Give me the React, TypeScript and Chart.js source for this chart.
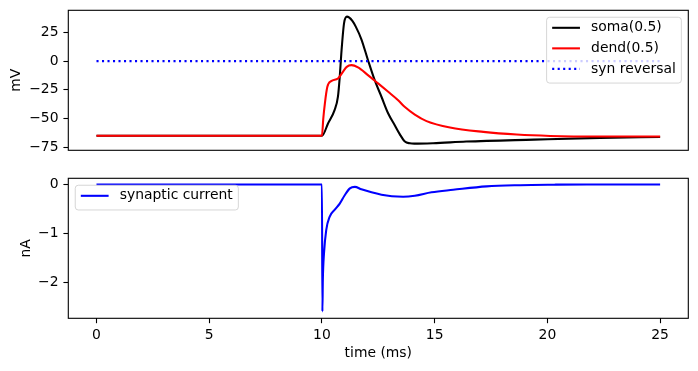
import React, { useEffect, useRef } from "react";
import { Chart, registerables } from "chart.js";

Chart.register(...registerables);

// ---------- data ----------
const xTicks = [0, 5, 10, 15, 20, 25];
const vTicks = [-75, -50, -25, 0, 25];
const iTicks = [-2, -1, 0];

const somaT = [0, 10, 10.27, 10.56, 10.71, 10.79, 10.86, 10.98, 11.11, 11.2, 11.35, 11.5, 11.75, 12.04, 12.34, 12.64, 12.94, 13.23, 13.45, 13.68, 13.9, 14.1, 14.93, 16.4, 19.4, 22.34, 25];
const somaV = [-65, -65, -54.3, -42.7, -31, -13.7, 6.7, 32.9, 38.7, 38, 35, 30, 19, 1, -16.6, -31, -45.6, -55.8, -63.5, -70, -71.5, -71.8, -71.4, -70, -68.3, -66.8, -66];

const dendT = [0, 10, 10.06, 10.13, 10.24, 10.41, 10.71, 10.93, 11.1, 11.31, 11.6, 12.04, 12.49, 12.94, 13.38, 13.68, 14.12, 14.64, 15.68, 17.16, 18.64, 20.12, 22.34, 25];
const dendV = [-65, -65, -50, -36.9, -22.4, -17.4, -15.1, -9.3, -5, -3.5, -5.5, -12.2, -19.4, -26.7, -34, -40, -46.5, -52.2, -57.8, -61.6, -63.9, -65.1, -65.6, -65.6];

const synRevT = [0, 25];
const synRevV = [0, 0];

const currT = [0, 10, 10.02, 10.04, 10.09, 10.19, 10.34, 10.56, 10.79, 11.01, 11.24, 11.46, 11.75, 12.2, 12.64, 13.1, 13.6, 14.12, 14.86, 15.82, 17.3, 18.79, 20.3, 21.75, 25];
const currI = [0, 0, -2.59, -1.95, -1.41, -0.93, -0.66, -0.52, -0.39, -0.22, -0.08, -0.05, -0.1, -0.16, -0.21, -0.24, -0.25, -0.23, -0.16, -0.11, -0.04, -0.015, -0.005, 0, 0];

// ---------- style ----------
const FONT = "'DejaVu Sans', sans-serif";
const FS = 13.9;
const LW = 2.08;

const fmt = (v: number) => (v < 0 ? "\u2212" + Math.abs(v) : String(v));
const pts = (t: number[], v: number[]) => t.map((x, k) => ({ x, y: v[k] }));

const framePlugin = {
  id: "frame",
  afterDatasetsDraw(chart: any) {
    const { ctx, chartArea: a } = chart;
    ctx.save();
    ctx.strokeStyle = "#000";
    ctx.lineWidth = 1.1;
    ctx.strokeRect(a.left, a.top, a.right - a.left, a.bottom - a.top);
    ctx.restore();
  },
};

const makeLegendPlugin = (corner: "tr" | "tl") => ({
  id: "boxLegend",
  afterDraw(chart: any) {
    const { ctx, chartArea: a } = chart;
    const ds = chart.data.datasets;
    ctx.save();
    ctx.font = `${FS}px ${FONT}`;
    const pad = 0.4 * FS;
    const handle = 2 * FS;
    const gap = 0.8 * FS;
    const axPad = 0.5 * FS;
    const rowH = 13.6;
    const spacing = 0.5 * FS;
    const tw = Math.max(...ds.map((d: any) => ctx.measureText(d.label).width));
    const w = pad + handle + gap + tw + pad;
    const h = ds.length * rowH + (ds.length - 1) * spacing + 2 * pad;
    const x0 = corner === "tr" ? a.right - axPad - w : a.left + axPad;
    const y0 = a.top + axPad;
    ctx.beginPath();
    ctx.roundRect(x0, y0, w, h, 3);
    ctx.fillStyle = "rgba(255,255,255,0.8)";
    ctx.fill();
    ctx.strokeStyle = "rgba(204,204,204,0.8)";
    ctx.lineWidth = 1;
    ctx.stroke();
    ds.forEach((d: any, k: number) => {
      const cy = y0 + pad + rowH / 2 - 1.8 + k * (rowH + spacing);
      ctx.beginPath();
      ctx.setLineDash(d.borderDash || []);
      ctx.strokeStyle = d.borderColor;
      ctx.lineWidth = d.borderWidth;
      ctx.moveTo(x0 + pad, cy);
      ctx.lineTo(x0 + pad + handle, cy);
      ctx.stroke();
      ctx.setLineDash([]);
      ctx.fillStyle = "#000";
      ctx.textBaseline = "middle";
      ctx.textAlign = "left";
      ctx.fillText(d.label, x0 + pad + handle + gap, cy);
    });
    ctx.restore();
  },
});

const tickFont = { family: FONT, size: FS };

const yAxis = (min: number, max: number, ticks: number[], title: string, titlePad: number) => ({
  type: "linear",
  min,
  max,
  afterBuildTicks: (s: any) => {
    s.ticks = ticks.map((v) => ({ value: v }));
  },
  afterFit: (s: any) => {
    s.width = 68.3;
    s.paddingTop = 0;
    s.paddingBottom = 0;
  },
  ticks: { callback: (v: number) => fmt(v), color: "#000", font: tickFont, padding: 4.9 },
  grid: { display: true, drawOnChartArea: false, drawTicks: true, tickLength: 4.9, color: "#000", tickWidth: 1.1 },
  border: { display: false },
  title: { display: true, text: title, color: "#000", font: tickFont, padding: { top: titlePad, bottom: 0 } },
});

const commonOpts = {
  animation: false,
  responsive: true,
  maintainAspectRatio: false,
  elements: {
    point: { radius: 0 },
    line: { tension: 0, cubicInterpolationMode: "monotone", borderJoinStyle: "round", borderCapStyle: "butt", fill: false },
  },
  plugins: { legend: { display: false }, tooltip: { enabled: false } },
};

export default function App() {
  const topRef = useRef<HTMLCanvasElement>(null);
  const botRef = useRef<HTMLCanvasElement>(null);

  useEffect(() => {
    const top = new Chart(topRef.current as HTMLCanvasElement, {
      type: "line",
      data: {
        datasets: [
          { label: "soma(0.5)", data: pts(somaT, somaV), borderColor: "#000000", borderWidth: LW, order: 3 },
          { label: "dend(0.5)", data: pts(dendT, dendV), borderColor: "#ff0000", borderWidth: LW, order: 2 },
          { label: "syn reversal", data: pts(synRevT, synRevV), borderColor: "#0000ff", borderWidth: LW, borderDash: [2.1, 3.4], order: 1 },
        ],
      },
      options: {
        ...commonOpts,
        layout: { padding: { left: 0, right: 9.7, top: 10.3, bottom: 14.7 } },
        scales: {
          x: { type: "linear", min: -1.25, max: 26.25, display: false },
          y: yAxis(-77.6, 44.2, vTicks, "mV", 8.4),
        },
      } as any,
      plugins: [framePlugin, makeLegendPlugin("tr")],
    } as any);

    const bot = new Chart(botRef.current as HTMLCanvasElement, {
      type: "line",
      data: {
        datasets: [
          { label: "synaptic current", data: pts(currT, currI), borderColor: "#0000ff", borderWidth: LW },
        ],
      },
      options: {
        ...commonOpts,
        layout: { padding: { left: 0, right: 9.7, top: 13.3, bottom: 0 } },
        scales: {
          x: {
            type: "linear",
            min: -1.25,
            max: 26.25,
            afterBuildTicks: (s: any) => {
              s.ticks = xTicks.map((v) => ({ value: v }));
            },
            afterFit: (s: any) => {
              s.height = 52.7;
              s.paddingLeft = 0;
              s.paddingRight = 0;
            },
            ticks: { callback: (v: number) => fmt(v), color: "#000", font: tickFont, padding: 4, maxRotation: 0, autoSkip: false },
            grid: { display: true, drawOnChartArea: false, drawTicks: true, tickLength: 4.9, color: "#000", tickWidth: 1.1 },
            border: { display: false },
            title: { display: true, text: "time (ms)", color: "#000", font: tickFont, padding: { top: 0, bottom: 9.7 } },
          },
          y: yAxis(-2.73, 0.125, iTicks, "nA", 17.7),
        },
      } as any,
      plugins: [framePlugin, makeLegendPlugin("tl")],
    } as any);

    return () => {
      top.destroy();
      bot.destroy();
    };
  }, []);

  return (
    <div style={{ position: "absolute", left: 0, top: 0, width: 698, height: 371, background: "#fff" }}>
      <div style={{ position: "absolute", left: 0, top: 0, width: 698, height: 165 }}>
        <canvas ref={topRef} />
      </div>
      <div style={{ position: "absolute", left: 0, top: 165, width: 698, height: 206 }}>
        <canvas ref={botRef} />
      </div>
    </div>
  );
}
